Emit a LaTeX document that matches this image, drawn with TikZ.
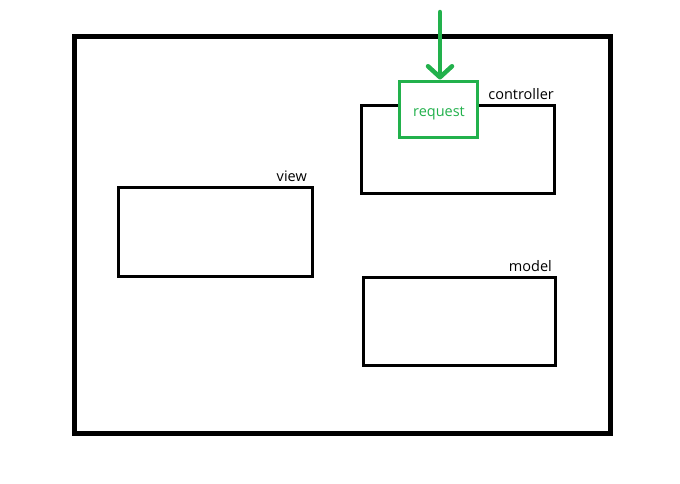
\documentclass[tikz,border=0pt]{standalone}
\usepackage{fontspec}
\setmainfont{Open Sans}
\usetikzlibrary{arrows.meta}
\definecolor{pgreen}{HTML}{22B14C}
\begin{document}
\begin{tikzpicture}[x=1pt,y=-1pt,
  frame/.style={draw=black,line width=5pt},
  box/.style={draw=black,line width=3pt},
  lbl/.style={font=\fontsize{14.5}{17}\selectfont,inner sep=0pt,anchor=base east}]
\useasboundingbox (0,0) rectangle (680,483);
\draw[frame] (74,36) rectangle (610,433);
\draw[box] (361,105) rectangle (554,193);
\node[lbl] (ctrllbl) at (554,99) {controller};
\draw[box] (118,187) rectangle (312,276);
\node[lbl] (viewlbl) at (307,181) {view};
\draw[box] (363,277) rectangle (555,365);
\node[lbl] (modellbl) at (552,271) {model};
\node[draw=pgreen,line width=3pt,fill=white,minimum width=78pt,minimum height=56pt,inner sep=0pt,
  text=pgreen] (request) at (438,109) {};
\node[text=pgreen,font=\fontsize{14.5}{17}\selectfont,inner sep=0pt,anchor=base] (reqtxt) at (439,116) {request};
\coordinate (src) at (440,12);
\draw[pgreen,line width=4.5pt,line cap=round,
  -{Straight Barb[length=11pt,width=24pt,line cap=round,line join=round]}]
  (src) -- (request.north -| src);
\end{tikzpicture}
\end{document}
